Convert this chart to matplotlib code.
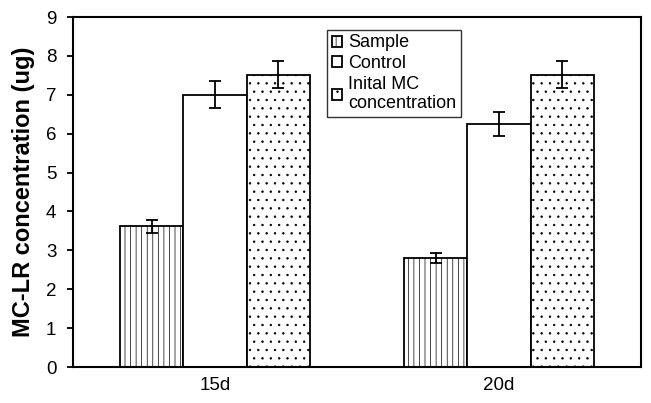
import matplotlib.pyplot as plt
import numpy as np

plt.rcParams['font.family'] = ['Liberation Sans', 'DejaVu Sans']
plt.rcParams['hatch.linewidth'] = 0.5

categories = ['15d', '20d']
series = ['Sample', 'Control', 'Inital MC\nconcentration']
sample = [3.62, 2.8]
control = [7.0, 6.25]
initial = [7.52, 7.52]
sample_err = [0.17, 0.13]
control_err = [0.35, 0.3]
initial_err = [0.35, 0.35]

values = [sample, control, initial]
errors = [sample_err, control_err, initial_err]
hatches = ['|||', '', '..']

fig = plt.figure(figsize=(6.51, 4.03), dpi=100)
ax = fig.add_axes([73 / 651, 36 / 403, 568 / 651, 350 / 403])

x = np.arange(len(categories))
w = 0.222
for i, (vals, errs, h) in enumerate(zip(values, errors, hatches)):
    ax.bar(x + (i - 1) * w, vals, w, yerr=errs, color='white', edgecolor='black',
           linewidth=1.3, hatch=h, label=series[i],
           error_kw=dict(ecolor='black', elinewidth=1.3, capsize=4, capthick=1.3))

ax.set_xlim(-0.5, 1.5)
ax.set_ylim(0, 9)
ax.set_yticks(range(10))
ax.set_xticks(x)
ax.set_xticklabels(categories)
ax.tick_params(axis='x', length=0, labelsize=13.5, pad=7)
ax.tick_params(axis='y', length=4, width=1.3, labelsize=13.5, pad=8)
ax.set_ylabel('MC-LR concentration (ug)', fontsize=17, fontweight='bold', labelpad=8)
for s in ax.spines.values():
    s.set_linewidth(1.5)

leg = ax.legend(loc='upper left', bbox_to_anchor=(0.448, 0.963), fontsize=13,
                frameon=True, fancybox=False, edgecolor='black', handlelength=0.55,
                handleheight=0.55, handletextpad=0.35, borderpad=0.25, labelspacing=0.2,
                borderaxespad=0)
leg.get_frame().set_linewidth(1.0)

fig.savefig('out.png', dpi=100)
